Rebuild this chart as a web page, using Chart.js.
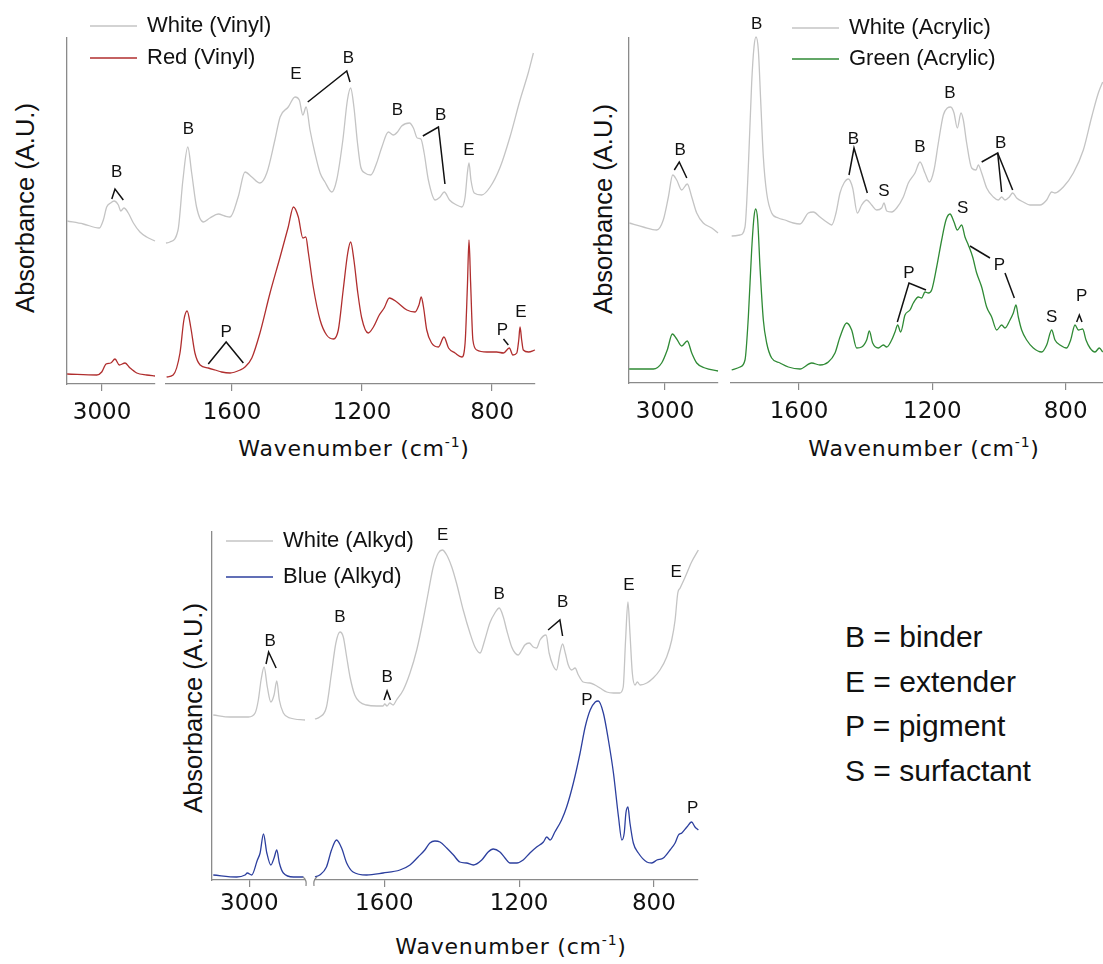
<!DOCTYPE html>
<html>
<head>
<meta charset="utf-8">
<script src="https://cdn.jsdelivr.net/npm/chart.js@4.4.1/dist/chart.umd.min.js"></script>
<style>
  body { margin: 0; background: #fff; }
  #page { position: relative; width: 1103px; height: 964px; overflow: hidden; }
  canvas { position: absolute; left: 0; top: 0; }
  .ytitle { position: absolute; transform: translate(-50%, -50%) rotate(-90deg); font: 25.5px "Liberation Sans"; color: #111; white-space: nowrap; }
  .xtitle { position: absolute; transform: translate(-50%, -50%); font: 22px "DejaVu Sans"; letter-spacing: 0.8px; color: #111; white-space: nowrap; }
  .xtitle sup { font-size: 14px; vertical-align: 9px; line-height: 0; }
  #key { position: absolute; left: 845px; top: 615px; font: 30px "Liberation Sans"; line-height: 44.5px; color: #111; white-space: nowrap; }
</style>
</head>
<body>
<div id="page">
  <div class="ytitle" style="left:25px;top:208px">Absorbance (A.U.)</div>
  <div class="ytitle" style="left:603px;top:209px">Absorbance (A.U.)</div>
  <div class="ytitle" style="left:193px;top:708px">Absorbance (A.U.)</div>
  <div class="xtitle" style="left:354px;top:448px">Wavenumber (cm<sup>-1</sup>)</div>
  <div class="xtitle" style="left:924px;top:448px">Wavenumber (cm<sup>-1</sup>)</div>
  <div class="xtitle" style="left:511px;top:946px">Wavenumber (cm<sup>-1</sup>)</div>
  <div id="key">B = binder<br>E = extender<br>P = pigment<br>S = surfactant</div>
</div>
<script>
// tick labels
const highTicks = [3000];
const lowTicks = [1600, 1200, 800];

// ---- Vinyl ----
const vinylWhiteHigh = [[3218,1.63],[3117,1.60],[3017,1.56],[2992,1.64],[2971,1.77],[2946,1.81],[2925,1.83],[2898,1.79],[2883,1.73],[2863,1.76],[2836,1.71],[2804,1.61],[2763,1.52],[2721,1.47],[2669,1.43]];
const vinylRedHigh = [[3218,0.10],[3033,0.09],[3002,0.12],[2975,0.20],[2946,0.21],[2919,0.25],[2892,0.19],[2856,0.21],[2825,0.16],[2783,0.11],[2721,0.09],[2669,0.08]];
const vinylWhiteLow = [[1803,1.41],[1791,1.42],[1766,1.54],[1751,2.04],[1736,2.37],[1724,2.11],[1709,1.77],[1688,1.62],[1668,1.66],[1642,1.70],[1622,1.68],[1606,1.67],[1581,1.87],[1560,2.12],[1539,2.07],[1514,2.01],[1493,2.11],[1468,2.44],[1452,2.67],[1427,2.77],[1406,2.87],[1393,2.84],[1382,2.69],[1372,2.77],[1360,2.54],[1345,2.31],[1329,2.11],[1314,2.02],[1293,1.92],[1278,2.04],[1259,2.44],[1245,2.84],[1235,2.96],[1225,2.77],[1214,2.41],[1204,2.17],[1191,2.11],[1173,2.09],[1155,2.21],[1139,2.37],[1119,2.52],[1104,2.49],[1091,2.52],[1078,2.58],[1054,2.61],[1042,2.56],[1030,2.46],[1019,2.45],[1009,2.31],[996,2.04],[975,1.84],[960,1.87],[947,1.92],[931,1.84],[909,1.79],[893,1.77],[883,1.87],[876,2.11],[871,2.21],[865,2.04],[855,1.91],[832,1.89],[806,1.97],[775,2.17],[745,2.47],[714,2.84],[688,3.12],[673,3.31]];
const vinylRedLow = [[1801,0.07],[1781,0.09],[1760,0.31],[1748,0.64],[1738,0.73],[1727,0.57],[1714,0.31],[1698,0.19],[1673,0.16],[1652,0.14],[1632,0.12],[1606,0.11],[1575,0.14],[1560,0.17],[1539,0.26],[1514,0.51],[1483,0.91],[1452,1.27],[1427,1.57],[1411,1.77],[1396,1.67],[1382,1.46],[1373,1.47],[1365,1.31],[1350,0.97],[1329,0.64],[1309,0.49],[1288,0.45],[1273,0.54],[1258,0.94],[1244,1.31],[1235,1.42],[1225,1.24],[1213,0.91],[1201,0.66],[1181,0.51],[1165,0.57],[1147,0.69],[1132,0.76],[1116,0.86],[1093,0.82],[1062,0.74],[1037,0.72],[1025,0.79],[1018,0.87],[1011,0.77],[1001,0.54],[986,0.41],[965,0.37],[948,0.47],[934,0.36],[914,0.31],[893,0.27],[883,0.41],[876,0.97],[871,1.44],[866,1.01],[859,0.44],[847,0.34],[816,0.32],[786,0.32],[765,0.31],[747,0.36],[736,0.29],[724,0.31],[718,0.44],[714,0.57],[709,0.44],[704,0.34],[688,0.32],[668,0.34]];
const vinylHighLabels = [{t:'B', x:2908, y:2.12}];
const vinylHighLeaders = [[[2939,1.85],[2919,1.95],[2867,1.84]]];
const vinylLowLabels = [{t:'B',x:1734,y:2.55},{t:'E',x:1403,y:3.10},{t:'B',x:1242,y:3.26},{t:'B',x:1091,y:2.74},{t:'B',x:958,y:2.69},{t:'E',x:871,y:2.34},{t:'P',x:1618,y:0.52},{t:'P',x:768,y:0.54},{t:'E',x:711,y:0.72}];
const vinylLowLeaders = [[[1367,2.82],[1247,3.13],[1237,3.02]],[[1013,2.48],[965,2.57],[945,2.00]],[[1673,0.20],[1618,0.42],[1565,0.21]],[[765,0.45],[750,0.39]]];

// ---- Acrylic ----
const acrylicWhiteHigh = [[3224,1.60],[3136,1.56],[3052,1.53],[3011,1.63],[2979,1.86],[2952,2.08],[2927,2.03],[2896,1.93],[2861,1.99],[2833,1.86],[2802,1.70],[2761,1.60],[2708,1.55],[2669,1.50]];
const acrylicGreenHigh = [[3224,0.14],[3073,0.14],[3021,0.20],[2986,0.33],[2954,0.49],[2927,0.44],[2896,0.37],[2861,0.42],[2833,0.30],[2802,0.20],[2750,0.15],[2669,0.12]];
const acrylicWhiteLow = [[1802,1.47],[1777,1.48],[1762,1.56],[1752,2.16],[1742,3.00],[1735,3.36],[1729,3.46],[1722,3.33],[1715,2.83],[1707,2.26],[1697,1.90],[1682,1.70],[1662,1.65],[1642,1.63],[1617,1.60],[1597,1.59],[1572,1.70],[1557,1.71],[1537,1.66],[1517,1.61],[1502,1.58],[1489,1.70],[1477,1.90],[1465,2.00],[1452,2.04],[1439,1.95],[1425,1.70],[1412,1.78],[1397,1.83],[1382,1.78],[1367,1.73],[1352,1.75],[1345,1.80],[1337,1.72],[1322,1.71],[1307,1.75],[1287,1.86],[1272,2.00],[1252,2.10],[1237,2.21],[1222,2.10],[1209,2.01],[1195,2.13],[1182,2.40],[1167,2.68],[1155,2.75],[1145,2.76],[1135,2.70],[1125,2.55],[1114,2.70],[1107,2.63],[1097,2.40],[1082,2.15],[1069,2.13],[1062,2.18],[1052,2.10],[1037,1.95],[1017,1.86],[1002,1.83],[992,1.86],[982,1.83],[969,1.86],[959,1.90],[947,1.85],[927,1.81],[907,1.78],[877,1.78],[857,1.83],[842,1.91],[832,1.90],[807,1.96],[777,2.10],[747,2.33],[722,2.66],[702,2.90],[689,3.01]];
const acrylicGreenLow = [[1802,0.13],[1777,0.16],[1762,0.23],[1752,0.66],[1742,1.33],[1735,1.66],[1730,1.74],[1724,1.63],[1717,1.16],[1707,0.63],[1697,0.40],[1682,0.25],[1657,0.20],[1632,0.16],[1597,0.14],[1562,0.20],[1537,0.18],[1512,0.21],[1492,0.30],[1477,0.46],[1457,0.60],[1442,0.53],[1427,0.35],[1412,0.36],[1397,0.43],[1389,0.52],[1379,0.40],[1362,0.35],[1347,0.38],[1337,0.36],[1322,0.43],[1312,0.51],[1304,0.58],[1295,0.51],[1282,0.68],[1267,0.73],[1257,0.80],[1242,0.86],[1232,0.85],[1222,0.91],[1212,0.90],[1202,0.93],[1187,1.16],[1172,1.43],[1159,1.63],[1147,1.69],[1135,1.61],[1125,1.53],[1112,1.58],[1102,1.46],[1092,1.38],[1079,1.26],[1067,1.10],[1052,0.96],[1037,0.76],[1022,0.66],[1007,0.53],[992,0.58],[982,0.55],[967,0.63],[957,0.70],[949,0.78],[942,0.66],[932,0.53],[917,0.43],[897,0.35],[872,0.31],[857,0.38],[842,0.53],[832,0.43],[817,0.38],[797,0.35],[785,0.43],[772,0.58],[762,0.53],[749,0.54],[739,0.43],[727,0.35],[712,0.31],[699,0.35],[689,0.31]];
const acrylicHighLabels = [{t:'B', x:2906, y:2.33}];
const acrylicHighLeaders = [[[2942,2.13],[2911,2.21],[2864,2.05]]];
const acrylicLowLabels = [{t:'B',x:1727,y:3.59},{t:'B',x:1437,y:2.44},{t:'S',x:1345,y:1.92},{t:'B',x:1237,y:2.36},{t:'B',x:1147,y:2.90},{t:'B',x:995,y:2.40},{t:'S',x:1109,y:1.75},{t:'P',x:1270,y:1.10},{t:'P',x:999,y:1.18},{t:'S',x:842,y:0.66},{t:'P',x:752,y:0.87}];
const acrylicLowLeaders = [[[1450,2.08],[1435,2.35],[1395,1.90]],[[1052,2.21],[1004,2.30],[992,1.91]],[[1004,2.30],[959,1.93]],[[1305,0.61],[1270,1.00],[1219,0.93]],[[1087,1.37],[1027,1.25]],[[982,1.10],[954,0.85]],[[767,0.61],[759,0.68],[751,0.61]]];

// ---- Alkyd ----
const alkydWhiteHigh = [[3225,1.65],[3121,1.63],[3006,1.63],[2964,1.67],[2944,1.80],[2927,2.00],[2908,2.13],[2888,1.93],[2866,1.78],[2846,1.85],[2829,1.99],[2813,1.80],[2788,1.67],[2746,1.62],[2653,1.60]];
const alkydBlueHigh = [[3225,0.05],[3079,0.03],[3027,0.05],[3013,0.07],[2985,0.05],[2950,0.20],[2933,0.27],[2912,0.46],[2891,0.27],[2866,0.15],[2846,0.22],[2829,0.30],[2813,0.17],[2788,0.07],[2725,0.03],[2663,0.03]];
const alkydWhiteLow = [[1806,1.61],[1792,1.63],[1772,1.73],[1757,2.07],[1744,2.37],[1732,2.48],[1722,2.43],[1712,2.23],[1702,2.03],[1688,1.85],[1673,1.78],[1653,1.75],[1623,1.74],[1604,1.74],[1599,1.76],[1592,1.74],[1584,1.77],[1574,1.75],[1564,1.80],[1544,1.90],[1524,2.07],[1504,2.30],[1485,2.60],[1470,2.87],[1455,3.13],[1440,3.27],[1428,3.30],[1415,3.25],[1400,3.13],[1386,2.97],[1366,2.70],[1346,2.47],[1331,2.33],[1316,2.27],[1302,2.40],[1287,2.57],[1272,2.67],[1259,2.72],[1247,2.63],[1237,2.50],[1222,2.33],[1212,2.27],[1203,2.25],[1192,2.30],[1183,2.35],[1170,2.37],[1158,2.33],[1148,2.32],[1138,2.40],[1120,2.45],[1111,2.27],[1100,2.15],[1089,2.10],[1079,2.27],[1071,2.36],[1063,2.27],[1054,2.15],[1044,2.10],[1034,2.12],[1024,2.05],[1010,1.98],[990,1.97],[975,1.95],[960,1.92],[940,1.88],[920,1.87],[901,1.87],[891,1.93],[884,2.40],[877,2.78],[871,2.47],[864,2.07],[856,1.95],[849,1.98],[841,1.95],[821,1.97],[802,2.02],[782,2.10],[762,2.23],[747,2.40],[737,2.60],[729,2.87],[722,2.92],[707,3.03],[688,3.18],[668,3.30]];
const alkydBlueLow = [[1806,0.03],[1792,0.05],[1772,0.13],[1757,0.30],[1742,0.40],[1727,0.32],[1712,0.17],[1693,0.08],[1653,0.05],[1604,0.07],[1554,0.10],[1524,0.15],[1500,0.23],[1480,0.30],[1465,0.37],[1450,0.39],[1435,0.38],[1415,0.32],[1395,0.25],[1376,0.18],[1356,0.17],[1336,0.15],[1311,0.20],[1292,0.28],[1277,0.31],[1257,0.28],[1242,0.22],[1227,0.17],[1207,0.17],[1188,0.20],[1168,0.27],[1148,0.33],[1128,0.38],[1118,0.43],[1108,0.40],[1094,0.48],[1074,0.60],[1059,0.73],[1039,0.97],[1019,1.27],[1004,1.53],[989,1.70],[974,1.78],[965,1.79],[950,1.67],[935,1.40],[920,1.07],[905,0.63],[895,0.40],[888,0.47],[883,0.67],[877,0.73],[871,0.57],[861,0.37],[846,0.27],[821,0.18],[806,0.17],[791,0.20],[772,0.22],[752,0.30],[737,0.37],[727,0.45],[717,0.47],[702,0.53],[688,0.58],[678,0.53],[668,0.50]];
const alkydHighLabels = [{t:'B', x:2871, y:2.39}];
const alkydHighLeaders = [[[2896,2.16],[2880,2.28],[2833,2.12]]];
const alkydLowLabels = [{t:'B',x:1732,y:2.63},{t:'B',x:1592,y:2.03},{t:'E',x:1427,y:3.45},{t:'B',x:1259,y:2.86},{t:'B',x:1071,y:2.78},{t:'E',x:874,y:2.95},{t:'E',x:734,y:3.08},{t:'P',x:999,y:1.80},{t:'P',x:685,y:0.72}];
const alkydLowLeaders = [[[1601,1.80],[1592,1.89],[1582,1.80]],[[1114,2.50],[1079,2.60],[1071,2.44]]];

const W = 1103, H = 964, AXIS_H = 60;
const AXIS = '#8a8a8a';
const GREY = '#c4c4c4', RED = '#b02e2e', GREEN = '#2f8a35', BLUE = '#2c3f9e';

const marksPlugin = {
  id: 'marks',
  afterDatasetsDraw(chart, args, opts) {
    const {ctx, scales: {x, y}, chartArea} = chart;
    ctx.save();
    ctx.strokeStyle = '#111';
    ctx.lineWidth = 1.5;
    (opts.leaders || []).forEach(path => {
      ctx.beginPath();
      path.forEach((p, i) => {
        const px = x.getPixelForValue(p[0]), py = y.getPixelForValue(p[1]);
        if (i) ctx.lineTo(px, py); else ctx.moveTo(px, py);
      });
      ctx.stroke();
    });
    ctx.fillStyle = '#111';
    ctx.font = '17px "Liberation Sans"';
    ctx.textAlign = 'center';
    ctx.textBaseline = 'middle';
    (opts.labels || []).forEach(m => ctx.fillText(m.t, x.getPixelForValue(m.x), y.getPixelForValue(m.y)));
    // little axis-break ticks
    if (opts.breakSide) {
      const bx = opts.breakSide === 'right' ? chartArea.right : chartArea.left;
      const d = opts.breakSide === 'right' ? 1 : -1;
      ctx.strokeStyle = AXIS;
      ctx.lineWidth = 1.2;
      ctx.beginPath();
      ctx.moveTo(bx - d * 2, chartArea.bottom - 3);
      ctx.quadraticCurveTo(bx + d * 2, chartArea.bottom, bx + d * 1, chartArea.bottom + 6);
      ctx.stroke();
    }
    ctx.restore();
  }
};

const keyPlugin = {
  id: 'key',
  afterDraw(chart, args, opts) {
    if (!opts.show) return;
    const ctx = chart.ctx;
    ctx.save();
    ctx.font = '22px "Liberation Sans"';
    ctx.textBaseline = 'middle';
    ctx.fillStyle = '#111';
    chart.data.datasets.forEach((ds, i) => {
      const y = opts.y + i * opts.row;
      ctx.strokeStyle = ds.borderColor;
      ctx.lineWidth = 1.3;
      ctx.beginPath();
      ctx.moveTo(opts.x, y);
      ctx.lineTo(opts.x + 47, y);
      ctx.stroke();
      ctx.fillText(ds.label, opts.x + 57, y);
    });
    ctx.restore();
  }
};

function segment(c) {
  const canvas = document.createElement('canvas');
  canvas.width = W;
  canvas.height = H;
  document.getElementById('page').appendChild(canvas);
  return new Chart(canvas, {
    type: 'line',
    data: {
      datasets: c.series.map(s => ({
        label: s.label,
        data: s.points.map(p => ({x: p[0], y: p[1]})),
        borderColor: s.color,
        borderWidth: 1.3,
        pointRadius: 0,
        fill: false,
        clip: false,
        cubicInterpolationMode: 'monotone'
      }))
    },
    options: {
      responsive: false,
      animation: false,
      events: [],
      layout: {padding: {left: c.left, right: W - c.right, top: c.top, bottom: H - c.bottom - AXIS_H}},
      scales: {
        x: {
          type: 'linear',
          reverse: true,
          min: c.min,
          max: c.max,
          afterBuildTicks: s => { s.ticks = c.ticks.map(v => ({value: v})); },
          afterFit: s => { s.height = AXIS_H; },
          ticks: {
            autoSkip: false,
            maxRotation: 0,
            padding: c.tickPad,
            color: '#111',
            font: {family: 'DejaVu Sans', size: 23},
            callback: v => String(v)
          },
          grid: {drawOnChartArea: false, drawTicks: true, tickLength: 7, color: AXIS, lineWidth: 1.2},
          border: {display: true, color: AXIS, width: 1.3}
        },
        y: {
          type: 'linear',
          min: 0,
          max: c.yMax,
          display: c.yLine,
          ticks: {display: false},
          grid: {display: false},
          border: {display: true, color: AXIS, width: 1.3},
          afterFit: s => { s.width = 0; }
        }
      },
      plugins: {
        legend: {display: false},
        tooltip: {enabled: false},
        marks: {labels: c.labels, leaders: c.leaders, breakSide: c.breakSide},
        key: c.key || {show: false}
      }
    },
    plugins: [marksPlugin, keyPlugin]
  });
}

// Vinyl panel
segment({left: 67, right: 155, top: 38, bottom: 384, min: 2669, max: 3219, yMax: 3.46, yLine: true, ticks: highTicks, tickPad: 8,
  series: [{label: 'White (Vinyl)', points: vinylWhiteHigh, color: GREY}, {label: 'Red (Vinyl)', points: vinylRedHigh, color: RED}],
  labels: vinylHighLabels, leaders: vinylHighLeaders});
segment({left: 166, right: 535, top: 38, bottom: 384, min: 668, max: 1803, yMax: 3.46, yLine: false, ticks: lowTicks, tickPad: 8,
  series: [{label: 'White (Vinyl)', points: vinylWhiteLow, color: GREY}, {label: 'Red (Vinyl)', points: vinylRedLow, color: RED}],
  labels: vinylLowLabels, leaders: vinylLowLeaders, key: {show: true, x: 90, y: 26, row: 32}});

// Acrylic panel
segment({left: 629, right: 718, top: 38, bottom: 383, min: 2669, max: 3225, yMax: 3.45, yLine: true, ticks: highTicks, tickPad: 8,
  series: [{label: 'White (Acrylic)', points: acrylicWhiteHigh, color: GREY}, {label: 'Green (Acrylic)', points: acrylicGreenHigh, color: GREEN}],
  labels: acrylicHighLabels, leaders: acrylicHighLeaders});
segment({left: 731, right: 1103, top: 38, bottom: 383, min: 688, max: 1804, yMax: 3.45, yLine: false, ticks: lowTicks, tickPad: 8,
  series: [{label: 'White (Acrylic)', points: acrylicWhiteLow, color: GREY}, {label: 'Green (Acrylic)', points: acrylicGreenLow, color: GREEN}],
  labels: acrylicLowLabels, leaders: acrylicLowLeaders, key: {show: true, x: 792, y: 28, row: 31}});

// Alkyd panel
segment({left: 212, right: 305, top: 532, bottom: 880, min: 2653, max: 3233, yMax: 3.48, yLine: true, ticks: highTicks, tickPad: 3,
  series: [{label: 'White (Alkyd)', points: alkydWhiteHigh, color: GREY}, {label: 'Blue (Alkyd)', points: alkydBlueHigh, color: BLUE}],
  labels: alkydHighLabels, leaders: alkydHighLeaders, breakSide: 'right'});
segment({left: 315, right: 698, top: 532, bottom: 880, min: 669, max: 1806, yMax: 3.48, yLine: false, ticks: lowTicks, tickPad: 3,
  series: [{label: 'White (Alkyd)', points: alkydWhiteLow, color: GREY}, {label: 'Blue (Alkyd)', points: alkydBlueLow, color: BLUE}],
  labels: alkydLowLabels, leaders: alkydLowLeaders, breakSide: 'left', key: {show: true, x: 226, y: 541, row: 36}});
</script>
</body>
</html>
